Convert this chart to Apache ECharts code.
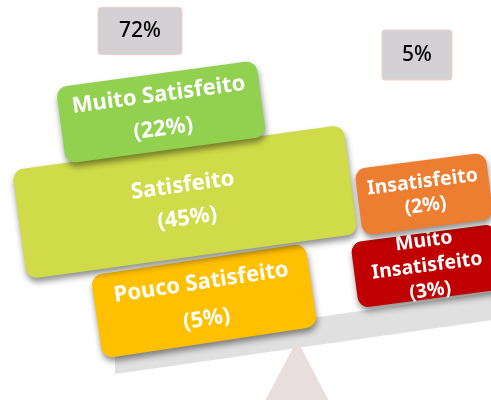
<!DOCTYPE html>
<html>
<head>
<meta charset="utf-8">
<script src="https://cdn.jsdelivr.net/npm/echarts@6/dist/echarts.min.js"></script>
<style>
html,body{margin:0;padding:0;background:#fff;}
#chart{width:491px;height:400px;}
</style>
</head>
<body>
<div id="chart"></div>
<script>
// ---- data ----
const categories = ['Muito Satisfeito', 'Satisfeito', 'Pouco Satisfeito', 'Insatisfeito', 'Muito Insatisfeito'];
const values = [22, 45, 5, 2, 3];
const groupTotals = [72, 5];

// ---- layout (pixel-space units of the hidden axes) ----
const boxCenter = [[161, 112], [185, 202], [204, 301], [424, 194], [427, 266]];
const boxSize = [[202, 77], [334, 110], [217, 84], [132, 67], [146, 66]];
const boxAngle = [7.7, 7.8, 8.6, 7.2, 7.5];
const boxFont = [22, 22, 22, 19.5, 19.5];
const boxLineHeight = [34, 33, 37, 24, 25];
const boxWrap = [false, false, false, false, true];
const boxColor = ['#92d050', '#cfdb48', '#ffc000', '#ed7d31', '#c00000'];
const boxOrder = [3, 2, 1, 5, 4];
const totalCenter = [[140, 31], [417, 55]];
const totalSize = [[84, 47], [70, 50]];
const beamPts = [[115, 346], [520, 288], [520, 316], [115, 374]];
const standPts = [[297, 340], [255, 420], [339, 420]];

const FONT = "'Noto Sans', 'Open Sans', sans-serif";

const chart = echarts.init(document.getElementById('chart'), null, {renderer: 'canvas'});

const option = {
  animation: false,
  grid: {left: 0, right: 0, top: 0, bottom: 0},
  xAxis: {type: 'value', min: 0, max: 491, show: false},
  yAxis: {type: 'value', min: 0, max: 400, inverse: true, show: false},
  series: [
    {
      type: 'custom',
      coordinateSystem: 'cartesian2d',
      z: 1,
      silent: true,
      data: [[0, 0]],
      renderItem: function (params, api) {
        return {
          type: 'group',
          children: [
            {type: 'polygon', shape: {points: beamPts.map(p => api.coord(p))}, style: {fill: '#e0e0e0'}, z2: 1},
            {type: 'polygon', shape: {points: standPts.map(p => api.coord(p))}, style: {fill: '#e9dddd'}, z2: 2}
          ]
        };
      }
    },
    {
      type: 'custom',
      coordinateSystem: 'cartesian2d',
      z: 2,
      silent: true,
      data: values.map((v, i) => [boxCenter[i][0], boxCenter[i][1], v]),
      renderItem: function (params, api) {
        const i = params.dataIndex;
        const c = api.coord([api.value(0), api.value(1)]);
        const s = api.size(boxSize[i]);
        const w = s[0], h = s[1];
        const name = boxWrap[i] ? categories[i].replace(' ', '\n') : categories[i];
        const txt = name + '\n(' + api.value(2) + '%)';
        const o = boxOrder[i] * 10;
        return {
          type: 'group',
          x: c[0], y: c[1],
          rotation: boxAngle[i] * Math.PI / 180,
          children: [
            {
              type: 'rect',
              shape: {x: -w / 2, y: -h / 2, width: w, height: h, r: 11},
              style: {fill: boxColor[i], shadowBlur: 6, shadowOffsetX: 1, shadowOffsetY: 4, shadowColor: 'rgba(0,0,0,0.45)'},
              z2: o
            },
            {
              type: 'text',
              style: {
                text: txt, x: 0, y: 0, align: 'center', verticalAlign: 'middle',
                fill: '#ffffff', fontSize: boxFont[i], fontWeight: 'bold', fontFamily: FONT,
                lineHeight: boxLineHeight[i]
              },
              z2: o + 1
            }
          ]
        };
      }
    },
    {
      type: 'custom',
      coordinateSystem: 'cartesian2d',
      z: 3,
      silent: true,
      data: groupTotals.map((v, i) => [totalCenter[i][0], totalCenter[i][1], v]),
      renderItem: function (params, api) {
        const i = params.dataIndex;
        const c = api.coord([api.value(0), api.value(1)]);
        const s = api.size(totalSize[i]);
        return {
          type: 'group',
          x: c[0], y: c[1],
          children: [
            {type: 'rect', shape: {x: -s[0] / 2, y: -s[1] / 2, width: s[0], height: s[1], r: 3},
             style: {fill: '#d3d1d3', stroke: '#f1cfc6', lineWidth: 1}},
            {type: 'text', style: {text: api.value(2) + '%', x: 0, y: 0, align: 'center', verticalAlign: 'middle',
              fill: '#000000', fontSize: 21, fontWeight: 500, fontFamily: FONT}}
          ]
        };
      }
    }
  ]
};
chart.setOption(option);
</script>
</body>
</html>
